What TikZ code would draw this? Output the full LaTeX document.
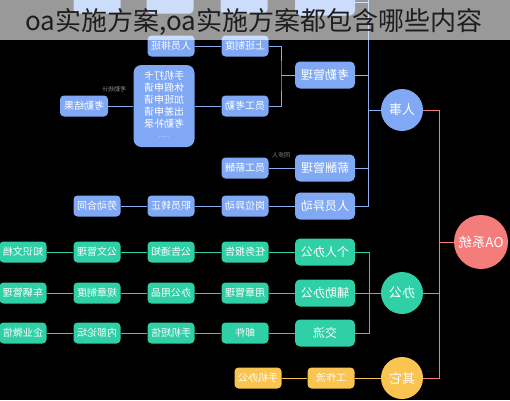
\documentclass[tikz,border=0pt]{standalone}
\usepackage{fontspec}
\usepackage{graphicx}
\newfontfamily\cjk{Noto Sans CJK SC}
\definecolor{blu}{RGB}{128,168,245}
\definecolor{bluline}{RGB}{140,175,240}
\definecolor{grn}{RGB}{48,208,166}
\definecolor{ylw}{RGB}{250,196,80}
\definecolor{rd}{RGB}{244,124,122}
\definecolor{ttl}{RGB}{30,30,30}
\newcommand\rf[1]{\reflectbox{#1}}
\tikzset{
  lvtwo/.style={rounded corners=5pt, minimum width=60pt, minimum height=27pt, inner sep=0pt, text=white, font=\cjk\fontsize{12}{12}\selectfont},
  lvthree/.style={rounded corners=4pt, minimum width=47pt, minimum height=21pt, inner sep=0pt, text=white, font=\cjk\fontsize{10}{10}\selectfont},
  hub/.style={circle, minimum size=42pt, inner sep=0pt, text=white, font=\cjk\fontsize{13}{13}\selectfont},
  bl/.style={fill=blu},
  gr/.style={fill=grn},
  yl/.style={fill=ylw},
  blink/.style={draw=bluline, line width=0.9pt},
  grlink/.style={draw=grn, line width=0.9pt},
  yllink/.style={draw=ylw, line width=0.9pt},
  rdlink/.style={draw=rd, line width=0.9pt},
  tiny/.style={text=white!55!black, font=\cjk\fontsize{6}{6}\selectfont, inner sep=0pt}
}
\begin{document}
\begin{tikzpicture}[x=1pt,y=-1pt]
\fill[black] (0,0) rectangle (510,400);
\useasboundingbox (0,0) rectangle (510,400);

% ---- faint top row (under banner)
\node[lvthree,bl] (ta) at (97,3) {};
\node[lvthree,bl] (tb) at (170,3) {};
\node[lvthree,bl] (tc) at (244,3) {};
\node[lvtwo,bl] (td) at (325,2) {};

% ---- 人事 branch
\node[lvthree,bl] (rsph) at (171,46) {\rf{人员排班}};
\node[lvthree,bl] (sbzd) at (245,46) {\rf{上班制度}};
\node[lvtwo,bl] (kqgl) at (325,75) {\rf{考勤管理}};
\node[lvthree,bl] (ygkq) at (245,106) {\rf{员工考勤}};
\node[bl, rounded corners=8pt, minimum width=61pt, minimum height=82pt, inner sep=0pt, text=white, font=\cjk\fontsize{10}{11.7}\selectfont] (big) at (164,106)
  {\rf{\begin{tabular}{@{}c@{}}手机打卡\\休假申请\\加班申请\\出差申请\\考勤补录\\[-2pt]{\fontsize{6}{6}\selectfont......}\end{tabular}}};
\node[lvthree,bl, minimum width=48pt] (kqjg) at (84,106) {\rf{考勤结果}};
\node[tiny] (kqlab) at (114,89) {\rf{考勤统计}};
\node[lvtwo,bl] (xcgl) at (325,168) {\rf{薪酬管理}};
\node[lvthree,bl] (ygxc) at (245,168) {\rf{员工薪酬}};
\node[tiny] (xclab) at (281,155) {\rf{同步人}};
\node[lvtwo,bl] (ryyd) at (325,206) {\rf{人员异动}};
\node[lvthree,bl] (gwyd) at (245,206) {\rf{岗位异动}};
\node[lvthree,bl] (zyzz) at (171,206) {\rf{职员转正}};
\node[lvthree,bl] (ldht) at (97,206) {\rf{劳动合同}};
\node[hub,bl] (rs) at (402,110) {\rf{人事}};

\coordinate (kb) at (281,75);
\coordinate (bt) at (368,0);
\draw[blink] (rsph.east) -- (sbzd.west);
\draw[blink] (sbzd.east) -| (kb) |- (ygkq.east);
\draw[blink] (kqgl.west) -- (kb);
\draw[blink] (ygkq.west) -- (big.east);
\draw[blink] (big.west) -- (kqjg.east);
\draw[blink] (ygxc.east) -- (xcgl.west);
\draw[blink] (ryyd.west) -- (gwyd.east);
\draw[blink] (gwyd.west) -- (zyzz.east);
\draw[blink] (zyzz.west) -- (ldht.east);
\draw[blink] (bt) |- (ryyd.east);
\draw[blink] (kqgl.east) -- (kqgl.east -| bt);
\draw[blink] (xcgl.east) -- (xcgl.east -| bt);
\draw[blink] (td.east) -- (td.east -| bt);
\draw[blink] (rs.west) -- (rs.west -| bt);

% ---- 办公 branch
\node[lvtwo,gr] (grA) at (325,252) {\rf{个人办公}};
\node[lvtwo,gr] (grB) at (325,293) {\rf{辅助办公}};
\node[lvtwo,gr] (grC) at (325,333) {\rf{交流}};
\node[lvthree,gr] (a1) at (245,252) {\rf{任务报告}};
\node[lvthree,gr] (a2) at (171,252) {\rf{公告通知}};
\node[lvthree,gr] (a3) at (97,252) {\rf{公文管理}};
\node[lvthree,gr] (a4) at (23,252) {\rf{知识文档}};
\node[lvthree,gr] (b1) at (245,293) {\rf{用章管理}};
\node[lvthree,gr] (b2) at (171,293) {\rf{办公用品}};
\node[lvthree,gr] (b3) at (97,293) {\rf{规章制度}};
\node[lvthree,gr] (b4) at (23,293) {\rf{车辆管理}};
\node[lvthree,gr] (c1) at (245,333) {\rf{邮件}};
\node[lvthree,gr] (c2) at (171,333) {\rf{手机短信}};
\node[lvthree,gr] (c3) at (97,333) {\rf{内部论坛}};
\node[lvthree,gr] (c4) at (23,333) {\rf{企业微信}};
\node[hub,gr] (bg) at (402,293) {\rf{办公}};

\coordinate (gt) at (369,252);
\coordinate (gb) at (369,333);
\draw[grlink] (grA.east) -- (gt) -- (gb) -- (grC.east);
\draw[grlink] (grB.east) -- (bg.west);
\foreach \r in {a,b,c}{
  \draw[grlink] (\r4.east) -- (\r3.west);
  \draw[grlink] (\r3.east) -- (\r2.west);
  \draw[grlink] (\r2.east) -- (\r1.west);
}
\draw[grlink] (a1.east) -- (grA.west);
\draw[grlink] (b1.east) -- (grB.west);
\draw[grlink] (c1.east) -- (grC.west);

% ---- 其它 branch
\node[hub,yl] (qt) at (402,378) {\rf{其它}};
\node[lvthree,yl] (gzl) at (331,378) {\rf{工作流}};
\node[lvthree,yl] (sjbg) at (258,378) {\rf{手机办公}};
\draw[yllink] (sjbg.east) -- (gzl.west);
\draw[yllink] (gzl.east) -- (qt.west);

% ---- OA 系统
\node[hub,fill=rd, minimum size=54pt, font=\cjk\fontsize{13.5}{13.5}\selectfont] (oa) at (481,242) {\rf{OA系统}};
\coordinate (rtop) at (439,110);
\coordinate (rbot) at (439,378);
\draw[rdlink] (rs.east) -- (rtop) -- (rbot) -- (qt.east);
\draw[rdlink] (bg.east) -- (bg.east -| rtop);
\draw[rdlink] (oa.west) -- (oa.west -| rtop);

% ---- title banner
\fill[white, fill opacity=0.6] (0,0) rectangle (510,40);
\node[text=ttl, font=\cjk\fontsize{26}{26}\selectfont, inner sep=0pt] (title) at (254,22) {oa实施方案,oa实施方案都包含哪些内容};
\end{tikzpicture}
\end{document}
